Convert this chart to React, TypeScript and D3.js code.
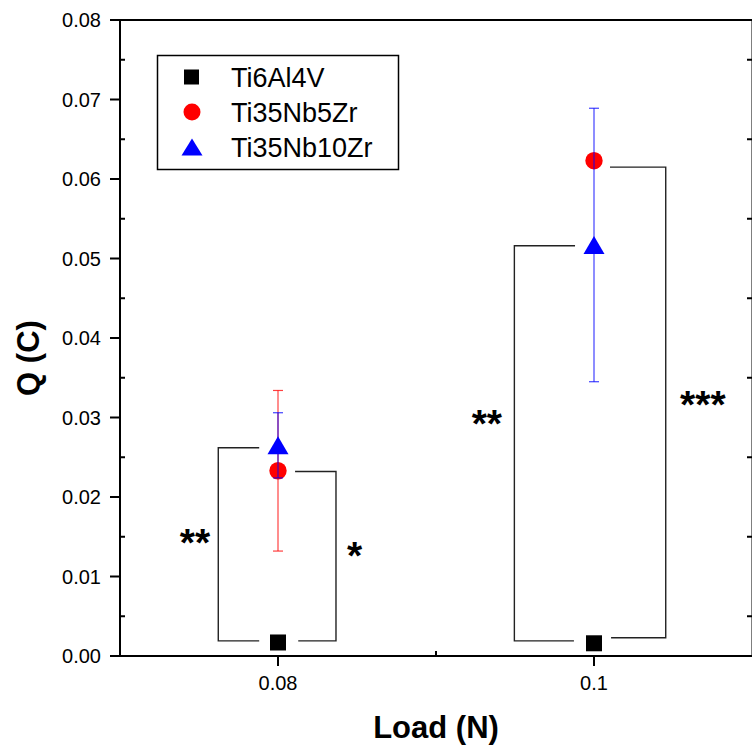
import React from "react";
import * as d3 from "d3";

const loads = [0.08, 0.1];
const seriesNames = ["Ti6Al4V", "Ti35Nb5Zr", "Ti35Nb10Zr"];
const ti6Al4V = [0.0017, 0.0016];
const ti35Nb5Zr = [0.0233, 0.0623];
const ti35Nb5ZrErr = [0.0101, 0.0008];
const ti35Nb10Zr = [0.0265, 0.0517];
const ti35Nb10ZrErr = [0.0041, 0.0172];
const xTickValues = [0.08, 0.1];
const xTickLabels = ["0.08", "0.1"];
const yTickValues = [0, 0.01, 0.02, 0.03, 0.04, 0.05, 0.06, 0.07, 0.08];

// significance brackets (data units)
const bracketOuter = [0.07622, 0.08367, 0.09496, 0.10454];
const bracketInnerTop = [0.07881, 0.08108, 0.0988, 0.10101];
const bracketInnerBottom = [0.07881, 0.08128, 0.09873, 0.10108];
const bracketTop = [0.0262, 0.0232, 0.0516, 0.0615];
const bracketBottom = [0.0019, 0.0019, 0.0019, 0.0023];
const starLabels = ["**", "*", "**", "***"];
const starX = [0.07475, 0.08485, 0.09322, 0.10689];
const starY = [0.01541, 0.01377, 0.03030, 0.03270];

const W = 752;
const H = 747;
const FONT = "'Liberation Sans', Arial, Helvetica, sans-serif";

export default function App() {
  const x = d3.scaleLinear().domain([0.07, 0.11]).range([120, 752]);
  const y = d3.scaleLinear().domain([0, 0.08]).range([656, 20]);
  const yMinor = d3.range(0.005, 0.08, 0.01);
  const xMinor = [0.09];

  const red = "#ff0000";
  const blue = "#0000ff";

  const errBar = (cx: number, v: number, e: number, color: string, key: string) => {
    const px = x(cx);
    const y1 = y(v + e);
    const y2 = y(v - e);
    return (
      <g key={key} stroke={color} strokeWidth={1.2} strokeOpacity={0.75}>
        <line x1={px} x2={px} y1={y1} y2={y2} />
        <line x1={px - 5} x2={px + 5} y1={y1} y2={y1} />
        <line x1={px - 5} x2={px + 5} y1={y2} y2={y2} />
      </g>
    );
  };

  const tri = (cx: number, cy: number, w: number, h: number) =>
    `M${cx},${cy - h / 2}L${cx + w / 2},${cy + h / 2}L${cx - w / 2},${cy + h / 2}Z`;

  const starFs = 39;

  return (
    <div style={{ position: "absolute", left: 0, top: 0 }}>
      <svg width={W} height={H} style={{ display: "block", background: "#fff" }} fontFamily={FONT}>
        {/* axes frame */}
        <g stroke="#000" strokeWidth={2} fill="none">
          <line x1={120} x2={120} y1={y(0.08)} y2={y(0) + 1} />
          <line x1={110} x2={754} y1={y(0)} y2={y(0)} />
          <line x1={110} x2={754} y1={y(0.08)} y2={y(0.08)} />
          <line x1={752.5} x2={752.5} y1={y(0.08)} y2={y(0)} />
          {yTickValues.map((t) => (
            <line key={"yt" + t} x1={110} x2={120} y1={y(t)} y2={y(t)} />
          ))}
          {yMinor.map((t) => (
            <line key={"ym" + t} x1={120} x2={125} y1={y(t)} y2={y(t)} />
          ))}
          {yMinor.map((t) => (
            <line key={"yrm" + t} x1={747} x2={752} y1={y(t)} y2={y(t)} />
          ))}
          {xTickValues.map((t) => (
            <line key={"xt" + t} x1={x(t)} x2={x(t)} y1={y(0)} y2={y(0) + 10} />
          ))}
          {xMinor.map((t) => (
            <line key={"xm" + t} x1={x(t)} x2={x(t)} y1={y(0) - 5} y2={y(0)} />
          ))}
        </g>

        {/* tick labels */}
        <g fontSize={20} fill="#000">
          {yTickValues.map((t) => (
            <text key={"yl" + t} x={101} y={y(t) + 7} textAnchor="end">
              {d3.format(".2f")(t)}
            </text>
          ))}
          {xTickValues.map((t, i) => (
            <text key={"xl" + t} x={x(t)} y={690} textAnchor="middle">
              {xTickLabels[i]}
            </text>
          ))}
        </g>

        {/* axis titles */}
        <text x={436} y={738} textAnchor="middle" fontSize={31} fontWeight="bold">
          Load (N)
        </text>
        <text
          transform={`translate(39,${358}) rotate(-90)`}
          textAnchor="middle"
          fontSize={31}
          fontWeight="bold"
        >
          Q (C)
        </text>

        {/* brackets */}
        <g stroke="#222" strokeWidth={1.4} fill="none">
          {bracketOuter.map((bo, i) => (
            <path
              key={"br" + i}
              d={`M${x(bracketInnerTop[i])},${y(bracketTop[i])}H${x(bo)}V${y(bracketBottom[i])}H${x(
                bracketInnerBottom[i]
              )}`}
            />
          ))}
        </g>
        <g fontSize={starFs} fontWeight="bold" fill="#000">
          {starLabels.map((s, i) => (
            <text key={"st" + i} x={x(starX[i])} y={y(starY[i]) + 0.57 * starFs} textAnchor="middle">
              {s}
            </text>
          ))}
        </g>

        {/* Ti6Al4V squares */}
        {loads.map((l, i) => (
          <rect key={"sq" + i} x={x(l) - 8} y={y(ti6Al4V[i]) - 8} width={16} height={16} fill="#000" />
        ))}
        {/* Ti35Nb5Zr */}
        {loads.map((l, i) => errBar(l, ti35Nb5Zr[i], ti35Nb5ZrErr[i], red, "re" + i))}
        {loads.map((l, i) => (
          <circle key={"ci" + i} cx={x(l)} cy={y(ti35Nb5Zr[i])} r={8.7} fill={red} />
        ))}
        {/* Ti35Nb10Zr */}
        {loads.map((l, i) => errBar(l, ti35Nb10Zr[i], ti35Nb10ZrErr[i], blue, "be" + i))}
        {loads.map((l, i) => (
          <path key={"tr" + i} d={tri(x(l), y(ti35Nb10Zr[i]), 21, 18)} fill={blue} />
        ))}

        {/* legend */}
        <rect x={157.5} y={55.5} width={241} height={114} fill="#fff" stroke="#000" strokeWidth={1.5} />
        <rect x={184} y={69.5} width={15} height={15} fill="#000" />
        <circle cx={192} cy={112} r={8.5} fill={red} />
        <path d={tri(192, 147, 21, 17)} fill={blue} />
        <g fontSize={27} fill="#000">
          {seriesNames.map((n, i) => (
            <text key={"lg" + i} x={231} y={[77, 112, 147][i] + 9.5}>
              {n}
            </text>
          ))}
        </g>
      </svg>
    </div>
  );
}
